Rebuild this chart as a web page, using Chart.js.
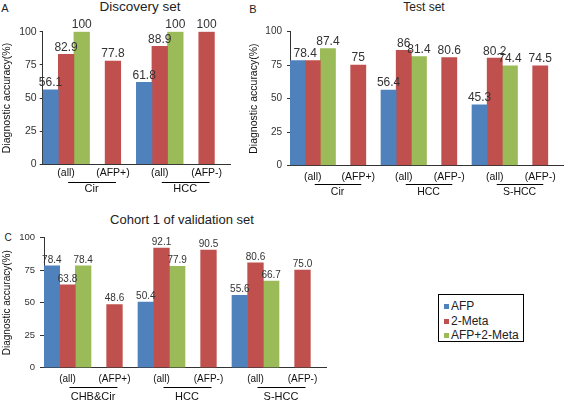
<!DOCTYPE html>
<html>
<head>
<meta charset="utf-8">
<script src="https://cdn.jsdelivr.net/npm/chart.js@4.4.0/dist/chart.umd.min.js"></script>
<style>
  body { margin: 0; width: 564px; height: 402px; position: relative; background: #fff; overflow: hidden;
         font-family: "Liberation Sans", Arial, sans-serif; color: #222; }
  .panel { position: absolute; }
  .txt { position: absolute; transform: translate(-50%, -50%); white-space: nowrap; line-height: 1; }
  #legend { position: absolute; left: 438px; top: 294px; width: 86px; height: 48px; border: 1px solid #000;
            box-sizing: border-box; padding-top: 4px; }
  #legend div { position: relative; height: 14.5px; line-height: 14.5px; font-size: 12px; padding-left: 12px; }
  #legend span { position: absolute; left: 5px; top: 5px; width: 5px; height: 5px; }
</style>
</head>
<body>
<div class="txt" style="left:5px;top:8px;font-size:11px">A</div>
<div class="txt" style="left:140px;top:7px;font-size:13.5px">Discovery set</div>
<div class="txt" style="left:253px;top:9px;font-size:11px">B</div>
<div class="txt" style="left:424px;top:7px;font-size:12px">Test set</div>
<div class="txt" style="left:8px;top:238px;font-size:10px">C</div>
<div class="txt" style="left:182px;top:219px;font-size:13px">Cohort 1 of validation set</div>

<div class="panel" style="left:0;top:0;width:240px;height:200px"><canvas id="chartA"></canvas></div>
<div class="panel" style="left:247px;top:0;width:317px;height:200px"><canvas id="chartB"></canvas></div>
<div class="panel" style="left:0;top:200px;width:340px;height:202px"><canvas id="chartC"></canvas></div>
<div id="legend"></div>

<script>
'use strict';
const FONT = '"Liberation Sans", Arial, sans-serif';

const seriesNames = ['AFP', '2-Meta', 'AFP+2-Meta'];
const seriesColors = ['#4F81BD', '#C0504D', '#9BBB59'];
const yTicks = [0, 25, 50, 75, 100];

// A: discovery set
const discoveryLabels = ['(all)', '(AFP+)', '(all)', '(AFP-)'];
const discoveryGroups = ['Cir', 'HCC'];
const discoveryAFP = [56.1, null, 61.8, null];
const discoveryMeta = [82.9, 77.8, 88.9, 100];
const discoveryCombo = [100, null, 100, null];

// B: test set
const testLabels = ['(all)', '(AFP+)', '(all)', '(AFP-)', '(all)', '(AFP-)'];
const testGroups = ['Cir', 'HCC', 'S-HCC'];
const testAFP = [78.4, null, 56.4, null, 45.3, null];
const testMeta = [78.4, 75, 86, 80.6, 80.2, 74.5];
const testCombo = [87.4, null, 81.4, null, 74.4, null];

// C: cohort 1 of validation set
const cohortLabels = ['(all)', '(AFP+)', '(all)', '(AFP-)', '(all)', '(AFP-)'];
const cohortGroups = ['CHB&Cir', 'HCC', 'S-HCC'];
const cohortAFP = [78.4, null, 50.4, null, 55.6, null];
const cohortMeta = [63.8, 48.6, 92.1, 90.5, 80.6, 75.0];
const cohortCombo = [78.4, null, 77.9, null, 66.7, null];

// value labels above bars + group names under the x axis
const annotate = {
  id: 'annotate',
  afterDatasetsDraw(chart, args, opts) {
    const ctx = chart.ctx;
    const sets = chart.data.datasets;
    ctx.save();
    ctx.fillStyle = '#333';
    ctx.font = opts.valueSize + 'px ' + FONT;
    ctx.textAlign = 'center';
    ctx.textBaseline = 'bottom';
    for (let i = 0; i < chart.data.labels.length; i++) {
      for (let d = 0; d < sets.length; d++) {
        const v = sets[d].data[i];
        if (v == null) continue;
        const bar = chart.getDatasetMeta(d).data[i];
        let x = bar.x;
        // same value on the next bar: one label between them
        if (sets[d + 1] && sets[d + 1].data[i] === v) {
          x = (x + chart.getDatasetMeta(d + 1).data[i].x) / 2;
          d++;
        }
        ctx.fillText(opts.decimals ? v.toFixed(opts.decimals) : String(v), x, bar.y - 1);
      }
    }
    const xs = chart.scales.x;
    ctx.strokeStyle = '#000';
    ctx.lineWidth = 1;
    ctx.font = opts.groupSize + 'px ' + FONT;
    ctx.fillStyle = '#111';
    ctx.textBaseline = 'middle';
    opts.groups.forEach((g, k) => {
      const x1 = xs.getPixelForValue(2 * k);
      const x2 = xs.getPixelForValue(2 * k + 1);
      const y = Math.round(xs.top + opts.lineGap) + 0.5;
      ctx.beginPath();
      ctx.moveTo(x1 + 2, y);
      ctx.lineTo(x2 + 3, y);
      ctx.stroke();
      ctx.fillText(g, (x1 + x2) / 2 + 2, xs.top + opts.textGap);
    });
    ctx.restore();
  }
};

function makeChart(id, labels, groups, afp, meta, combo, o) {
  return new Chart(document.getElementById(id), {
    type: 'bar',
    data: {
      labels: labels,
      datasets: [afp, meta, combo].map((d, i) => ({
        label: seriesNames[i],
        data: d,
        backgroundColor: seriesColors[i],
        barPercentage: 1,
        categoryPercentage: 1
      }))
    },
    options: {
      responsive: true,
      maintainAspectRatio: false,
      animation: false,
      devicePixelRatio: 1,
      layout: { padding: { top: o.top, right: o.right, left: 0, bottom: 0 } },
      plugins: {
        legend: { display: false },
        tooltip: { enabled: false },
        annotate: { groups: groups, valueSize: o.valueSize, groupSize: o.groupSize,
                    lineGap: o.lineGap, textGap: o.textGap, decimals: o.decimals }
      },
      scales: {
        x: {
          grid: { display: false, drawTicks: false },
          border: { display: true, color: '#333' },
          ticks: { font: { size: o.xSize, family: FONT }, color: '#111', padding: o.xPad,
                   maxRotation: 0, autoSkip: false },
          afterFit: s => { s.height = o.xh; }
        },
        y: {
          min: 0,
          max: 100,
          afterBuildTicks: s => { s.ticks = yTicks.map(v => ({ value: v })); },
          ticks: { font: { size: o.tickSize, family: FONT }, color: '#333', padding: o.yPad },
          grid: { drawOnChartArea: false, tickLength: o.tickLen, color: '#333' },
          border: { color: '#333' },
          title: { display: true, text: 'Diagnostic accuracy(%)', color: '#111',
                   font: { size: o.titleSize, family: FONT }, padding: { top: 1, bottom: 0 } },
          afterFit: s => { s.width = o.yw; }
        }
      }
    },
    plugins: [annotate]
  });
}

makeChart('chartA', discoveryLabels, discoveryGroups, discoveryAFP, discoveryMeta, discoveryCombo, {
  top: 31.7, right: 10, yw: 42.7, xh: 35.7, xPad: 3, yPad: 3, tickLen: 3,
  valueSize: 12, groupSize: 11, xSize: 10.5, tickSize: 10.5, titleSize: 10.5,
  lineGap: 17.4, textGap: 25
});

makeChart('chartB', testLabels, testGroups, testAFP, testMeta, testCombo, {
  top: 31.7, right: 1, yw: 43, xh: 34.5, xPad: 5, yPad: 5, tickLen: 3,
  valueSize: 12, groupSize: 10.5, xSize: 10.5, tickSize: 10, titleSize: 10.5,
  lineGap: 18.5, textGap: 27
});

makeChart('chartC', cohortLabels, cohortGroups, cohortAFP, cohortMeta, cohortCombo, {
  top: 37.7, right: 14, yw: 44, xh: 34.3, xPad: 6, yPad: 5, tickLen: 4,
  valueSize: 10, groupSize: 11, xSize: 10, tickSize: 9.5, titleSize: 10,
  lineGap: 19, textGap: 29, decimals: 1
});

// legend
const legend = document.getElementById('legend');
seriesNames.forEach((name, i) => {
  const row = document.createElement('div');
  const sw = document.createElement('span');
  sw.style.background = seriesColors[i];
  row.appendChild(sw);
  row.appendChild(document.createTextNode(name));
  legend.appendChild(row);
});
</script>
</body>
</html>
